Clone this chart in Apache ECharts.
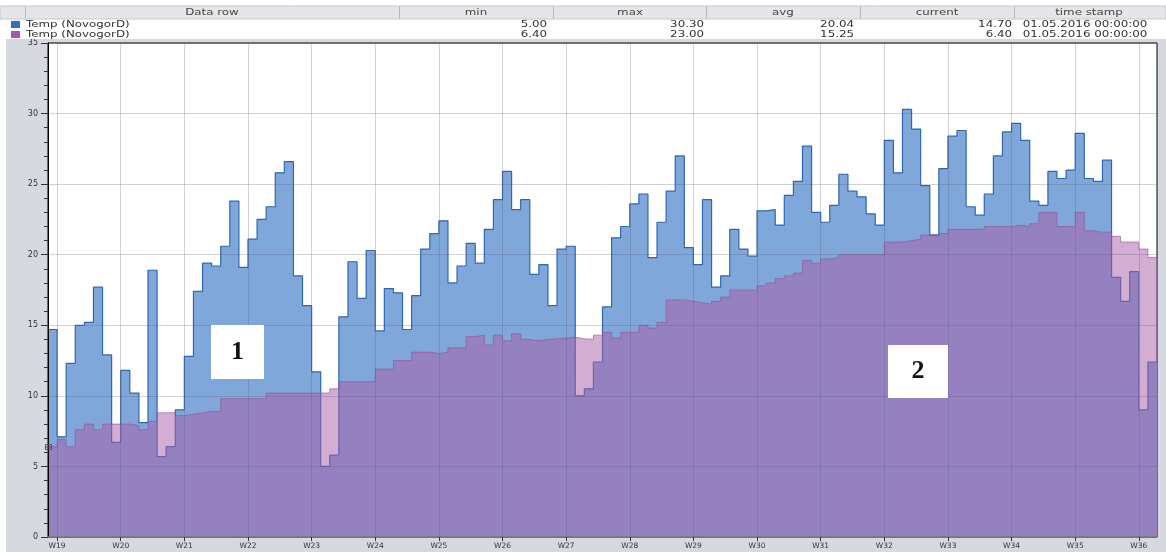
<!DOCTYPE html>
<html>
<head>
<meta charset="utf-8">
<script src="https://cdn.jsdelivr.net/npm/echarts@6/dist/echarts.min.js"></script>
<style>
html,body{margin:0;padding:0;background:#fff;}
#chart{width:1166px;height:552px;}
</style>
</head>
<body>
<div id="chart"></div>
<script>
// ---- data (daily values, one per day starting the day before W19) ----
const blueTemp = [
14.7,7.1,12.3,15.0,15.2,17.7,12.9,6.7,11.8,10.2,8.1,18.9,5.7,6.4,9.0,12.8,17.4,19.4,19.2,20.6,
23.8,19.1,21.1,22.5,23.4,25.8,26.6,18.5,16.4,11.7,5.0,5.8,15.6,19.5,16.9,20.3,14.6,17.6,17.3,14.7,
17.1,20.4,21.5,22.4,18.0,19.2,20.8,19.4,21.8,23.9,25.9,23.2,23.9,18.6,19.3,16.4,20.4,20.6,10.0,10.5,
12.4,16.3,21.2,22.0,23.6,24.3,19.8,22.3,24.5,27.0,20.5,19.3,23.9,17.7,18.5,21.8,20.4,19.9,23.1,23.2,
22.1,24.2,25.2,27.7,23.0,22.3,23.5,25.7,24.5,24.1,22.9,22.1,28.1,25.8,30.3,28.9,24.9,21.4,26.1,28.4,
28.8,23.4,22.8,24.3,27.0,28.7,29.3,28.1,23.8,23.5,25.9,25.4,26.0,28.6,25.4,25.2,26.7,18.4,16.7,18.8,
9.0,12.4
];
const pinkTemp = [
6.4,6.9,6.4,7.6,8.0,7.6,8.0,8.0,8.0,7.9,7.6,8.2,8.8,8.8,8.6,8.7,8.8,8.9,8.9,9.8,
9.8,9.8,9.8,9.8,10.2,10.2,10.2,10.2,10.2,10.2,10.2,10.5,11.0,11.0,11.0,11.0,11.9,11.9,12.5,12.5,
13.1,13.1,13.0,13.1,13.4,13.4,14.2,14.3,13.6,14.3,13.9,14.4,14.0,13.9,14.0,14.05,14.1,14.15,14.05,14.0,
14.3,14.5,14.1,14.5,14.5,15.0,14.8,15.2,16.8,16.8,16.7,16.6,16.5,16.7,17.0,17.5,17.5,17.5,17.8,18.0,
18.3,18.5,18.7,19.6,19.4,19.7,19.8,20.0,20.0,20.0,20.0,20.0,20.9,20.9,21.0,21.1,21.4,21.3,21.5,21.8,
21.8,21.8,21.8,22.0,22.0,22.0,22.1,22.0,22.2,23.0,23.0,22.0,22.0,23.0,21.7,21.6,21.6,21.3,20.9,20.9,
20.4,19.8
];
const weekLabels = ['W19','W20','W21','W22','W23','W24','W25','W26','W27','W28','W29','W30','W31','W32','W33','W34','W35','W36'];
const tableHeaders = ['Data row','min','max','avg','current','time stamp'];
const seriesNames = ['Temp (NovogorD)','Temp (NovogorD)'];
const minVals = ['5.00','6.40'];
const maxVals = ['30.30','23.00'];
const avgVals = ['20.04','15.25'];
const currentVals = ['14.70','6.40'];
const timeStamps = ['01.05.2016 00:00:00','01.05.2016 00:00:00'];

// ---- build ----
const stepData = arr => arr.map((v,i)=>[i,v]).concat([[arr.length, arr[arr.length-1]]]);
const weekTicks = weekLabels.map((_,k)=>1+7*k);
const nDays = blueTemp.length;

const FONT = '8px "DejaVu Sans"';
const SX = 1.48;
function txt(x,y,text,align,extra){
  return Object.assign({type:'text', x:x, y:y, scaleX:SX, z:100,
    style:{text:text, font:FONT, fill:'#333', align:align, textAlign:align, verticalAlign:'middle', textVerticalAlign:'middle'}}, extra||{});
}
const graphics = [];
// white areas outside chart panel
graphics.push({type:'rect', z:90, shape:{x:0,y:0,width:1166,height:39}, style:{fill:'#fff'}});
graphics.push({type:'rect', z:90, shape:{x:0,y:0,width:6,height:552}, style:{fill:'#fff'}});
// header bar
graphics.push({type:'rect', z:95, shape:{x:0,y:6,width:1166,height:13}, style:{fill:'#e4e6e9', stroke:'#c3c7cc', lineWidth:1}});
const seps = [25,399,553,706,860,1014];
seps.forEach(s=>graphics.push({type:'line', z:96, shape:{x1:s+0.5,y1:6,x2:s+0.5,y2:19}, style:{stroke:'#b5b9bf', lineWidth:1}}));
const headerCenters = [212,476,630,783,937,1089];
tableHeaders.forEach((h,i)=>graphics.push(txt(headerCenters[i],12.5,h,'center',{style:{text:h,font:FONT,fill:'#444',align:'center',textAlign:'center',verticalAlign:'middle',textVerticalAlign:'middle'}})));
const rowY = [24.5,34.5];
const swatch = ['#2f6fc0','#a05ab0'];
rowY.forEach((y,r)=>{
  graphics.push({type:'rect', z:100, shape:{x:11,y:y-3.5,width:9,height:7}, style:{fill:swatch[r]}});
  graphics.push(txt(26,y,seriesNames[r],'left'));
  graphics.push(txt(547,y,minVals[r],'right'));
  graphics.push(txt(704,y,maxVals[r],'right'));
  graphics.push(txt(854,y,avgVals[r],'right'));
  graphics.push(txt(1012,y,currentVals[r],'right'));
  graphics.push(txt(1085,y,timeStamps[r],'center'));
});
// small marker icon on axis
graphics.push({type:'rect', z:100, shape:{x:45.5,y:444.5,width:6,height:5}, style:{fill:'none', stroke:'#555', lineWidth:1}});
graphics.push({type:'line', z:100, shape:{x1:45.5,y1:447,x2:51.5,y2:447}, style:{stroke:'#555', lineWidth:1}});
// annotation boxes
graphics.push({type:'rect', z:100, shape:{x:211,y:325,width:53,height:54}, style:{fill:'#fff'}});
graphics.push({type:'text', z:101, x:237.5, y:352, style:{text:'1', font:'bold 26px "Liberation Serif"', fill:'#111', align:'center', textAlign:'center', verticalAlign:'middle', textVerticalAlign:'middle'}});
graphics.push({type:'rect', z:100, shape:{x:888,y:345,width:60,height:53}, style:{fill:'#fff'}});
graphics.push({type:'text', z:101, x:918, y:371.5, style:{text:'2', font:'bold 26px "Liberation Serif"', fill:'#111', align:'center', textAlign:'center', verticalAlign:'middle', textVerticalAlign:'middle'}});

const gridLine = {color:'rgba(90,90,115,0.28)', width:1};
const chart = echarts.init(document.getElementById('chart'), null, {renderer:'canvas'});
chart.setOption({
  animation:false,
  backgroundColor:'#d6dae0',
  grid:{left:48, top:43, width:1109, height:494, show:true, backgroundColor:'#fff', borderColor:'#000', borderWidth:1},
  xAxis:{
    type:'value', min:0, max:nDays, z:5,
    axisLine:{show:true, onZero:false, lineStyle:{color:'#7a7a7a', width:1.5}},
    axisTick:{show:true, customValues:weekTicks, length:4, lineStyle:{color:'#333'}},
    axisLabel:{customValues:weekTicks, formatter:v=>weekLabels[Math.round((v-1)/7)], fontSize:7.5, color:'#333', margin:5, fontFamily:'DejaVu Sans'},
    splitLine:{show:true, lineStyle:gridLine}
  },
  yAxis:{
    type:'value', min:0, max:35, interval:5, z:5,
    axisLine:{show:true, lineStyle:{color:'#000', width:1}},
    axisTick:{show:true, length:7, lineStyle:{color:'#333'}},
    minorTick:{show:true, splitNumber:5, length:4, lineStyle:{color:'#333'}},
    axisLabel:{fontSize:8, color:'#333', margin:10, fontFamily:'DejaVu Sans'},
    splitLine:{show:true, lineStyle:gridLine}
  },
  series:[
    {type:'line', name:'blue', step:'end', data:stepData(blueTemp), symbol:'none', z:2,
     lineStyle:{color:'#2e66b0', width:1.2}, areaStyle:{color:'#80a7d9', opacity:1}},
    {type:'line', name:'pink', step:'end', data:stepData(pinkTemp), symbol:'none', z:3,
     lineStyle:{color:'rgba(150,80,150,0.6)', width:1}, areaStyle:{color:'rgb(170,92,166)', opacity:0.5}}
  ],
  graphic:{elements:graphics}
});
</script>
</body>
</html>
